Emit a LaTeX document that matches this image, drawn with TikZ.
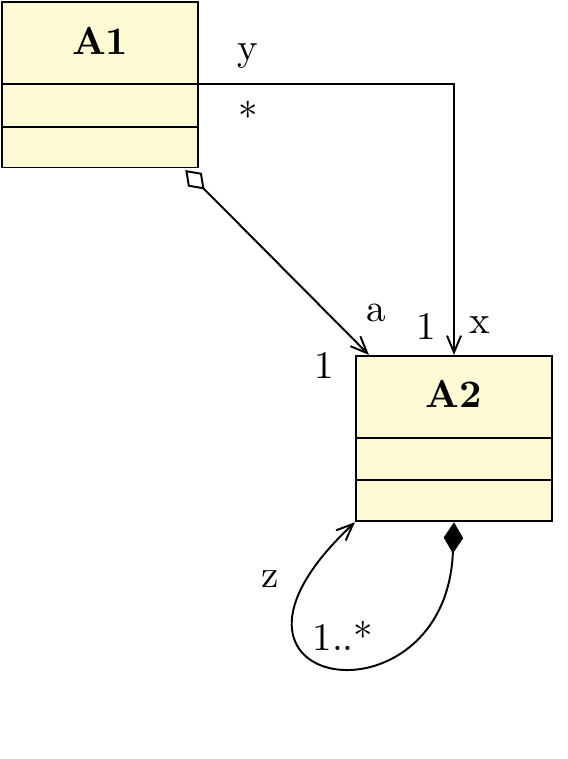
\documentclass[tikz,border=0pt]{standalone}
\usepackage{tikz}
\usetikzlibrary{shapes,arrows.meta,positioning,calc}
\definecolor{classfill}{RGB}{255,250,214}
\tikzstyle{umlclass} = [rectangle split, rectangle split parts=3, draw=black, fill=classfill, minimum width=50.3pt, inner xsep=2pt, inner ysep=0pt, anchor=north west]
\tikzstyle{assoc} = [-{Straight Barb[length=4.3pt,width=3.6pt]}]
\tikzstyle{aggr} = [{Diamond[open,length=7pt,width=5pt]}-{Straight Barb[length=4.3pt,width=3.6pt]}]
\tikzstyle{comp} = [{Diamond[length=8pt,width=5pt]}-{Straight Barb[length=4.3pt,width=3.6pt]}]

\begin{document}
\begin{tikzpicture}[line width=0.5pt]
                \useasboundingbox (0,0) rectangle (145.4pt,-194.6pt);
                \node[umlclass] (a1) at (0.3pt,-0.3pt) {\textbf{A1}\rule[-7.5pt]{0pt}{20.6pt}
                        \nodepart{two}\rule{0pt}{10.3pt}
                        \nodepart{three}\rule{0pt}{10pt}};
                \node[umlclass] (a2) at (91pt,-91pt) {\textbf{A2}\rule[-7.5pt]{0pt}{20.6pt}
                        \nodepart{two}\rule{0pt}{10.3pt}
                        \nodepart{three}\rule{0pt}{10pt}};
                
                % role names and multiplicities
                \node (ylbl) at (63.6pt,-14.3pt) {y};
                \node (ymult) at (63.6pt,-29.7pt) {*};
                \node (xmult) at (109.2pt,-83.6pt) {1};
                \node (xlbl) at (123.1pt,-83.3pt) {x};
                \node (albl) at (96.4pt,-80.2pt) {a};
                \node (amult) at (83.1pt,-93.8pt) {1};
                \node (zlbl) at (69.2pt,-148.4pt) {z};
                \node (zmult) at (87.9pt,-163.1pt) {1..*};
                
                \draw[assoc] (a1.one split east) -| (a2.north);
                \draw[aggr] ([xshift=-3.6pt,yshift=-0.4pt]a1.south east) -- ([xshift=3.6pt]a2.north west);
                \draw[comp] (a2.south) .. controls +(-2pt,-54pt) and +(-46.5pt,-43.5pt) .. (a2.south west);
            \end{tikzpicture}
\end{document}
